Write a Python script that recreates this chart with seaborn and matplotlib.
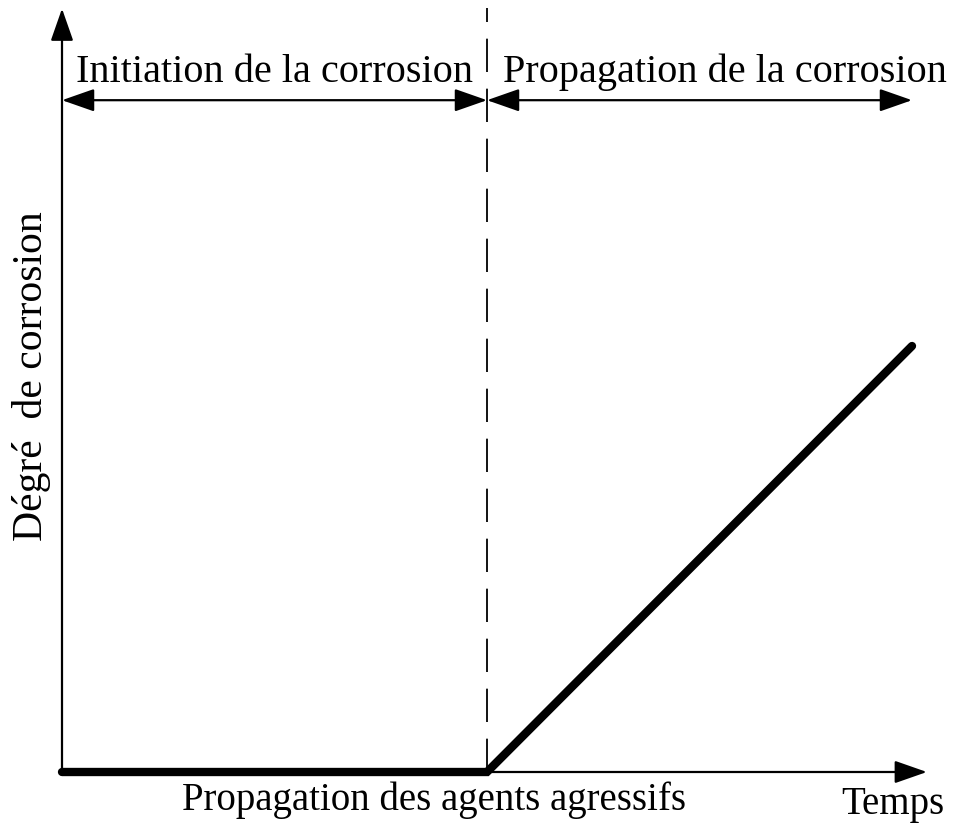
import seaborn as sns
import matplotlib.pyplot as plt
import pandas as pd

# corrosion curve: flat during initiation, linear during propagation
temps = [0, 10, 20]
degre = [0, 0, 10]
t_init = 10

sns.set_style("white")
plt.rcParams['font.family'] = ['Liberation Serif', 'DejaVu Serif']
plt.rcParams['lines.scale_dashes'] = False
plt.rcParams['text.color'] = 'black'

data = pd.DataFrame({'temps': temps, 'degre': degre})

fig = plt.figure(figsize=(9.55, 8.25), dpi=100)
ax = fig.add_axes([0, 0, 1, 1])
ax.set_xlim(-62 / 42.5, 893 / 42.5)
ax.set_ylim(-53 / 42.6, 772 / 42.6)
ax.axis('off')

# axes with arrows
head = dict(arrowstyle='-|>,head_length=0.4,head_width=0.14', mutation_scale=50,
            color='black', lw=1.6, shrinkA=0, shrinkB=0)
ax.annotate('', xy=(20.35, 0), xytext=(0, 0), arrowprops=head)
ax.annotate('', xy=(0, 17.92), xytext=(0, 0), arrowprops=head)

# dashed separation line
ax.plot([t_init, t_init], [0, 17.93], color='black', lw=1.3, dashes=(24, 12))

# double arrows for the two phases
dbl = dict(arrowstyle='<|-|>,head_length=0.4,head_width=0.14', mutation_scale=50,
           color='black', lw=1.6, shrinkA=0, shrinkB=0)
ax.annotate('', xy=(t_init, 15.77), xytext=(0, 15.77), arrowprops=dbl)
ax.annotate('', xy=(20.0, 15.77), xytext=(t_init, 15.77), arrowprops=dbl)

# corrosion curve
sns.lineplot(data=data, x='temps', y='degre', ax=ax, color='black', lw=6,
             solid_capstyle='round', solid_joinstyle='miter')

ax.text(5.0, 16.2, 'Initiation de la corrosion', ha='center', va='baseline', fontsize=29)
ax.text(15.6, 16.2, 'Propagation de la corrosion', ha='center', va='baseline', fontsize=29)
ax.text(8.75, -0.9, 'Propagation des agents agressifs', ha='center', va='baseline', fontsize=28)
ax.text(19.55, -0.98, 'Temps', ha='center', va='baseline', fontsize=28)
ax.text(-0.72, 9.3, 'Dégré  de corrosion', ha='center', va='center', rotation=90, fontsize=30)

fig.savefig('out.png', dpi=100)
